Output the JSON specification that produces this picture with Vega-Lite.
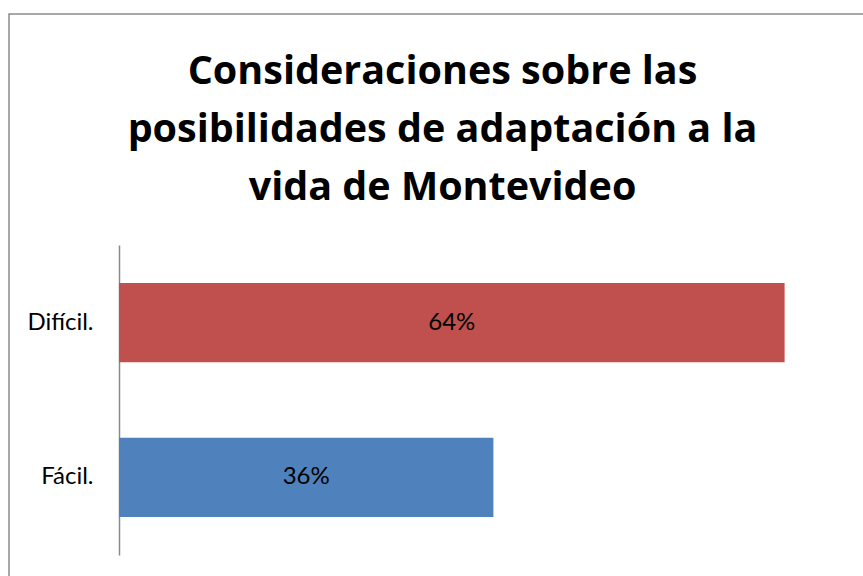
{
  "$schema": "https://vega.github.io/schema/vega-lite/v6.json",
  "autosize": {"type": "none"},
  "width": 855,
  "height": 563,
  "padding": {"left": 9, "top": 14, "right": 0, "bottom": 0},
  "background": "white",
  "config": {
    "view": {"stroke": "#8a8a8a", "strokeWidth": 1.5},
    "font": "Lato"
  },
  "title": {
    "text": ["Consideraciones sobre las", "posibilidades de adaptación a la", "vida de Montevideo"],
    "font": "Open Sans",
    "fontWeight": "bold",
    "fontSize": 39.5,
    "lineHeight": 58,
    "color": "black",
    "anchor": "middle",
    "frame": "group",
    "dx": 6,
    "dy": 198
  },
  "data": {
    "values": [
      {"categoria": "Difícil.", "valor": 0.64},
      {"categoria": "Fácil.", "valor": 0.36}
    ]
  },
  "encoding": {
    "y": {
      "field": "categoria",
      "type": "nominal",
      "sort": ["Difícil.", "Fácil."],
      "scale": {"range": [231, 541], "paddingInner": 0.487, "paddingOuter": 0.245},
      "axis": {
        "title": null,
        "offset": -110,
        "ticks": false,
        "domainColor": "#8a8a8a",
        "domainWidth": 1.5,
        "labelFont": "Lato",
        "labelFontSize": 24,
        "labelColor": "black",
        "labelPadding": 26
      }
    }
  },
  "layer": [
    {
      "mark": {"type": "bar"},
      "encoding": {
        "x": {
          "field": "valor",
          "type": "quantitative",
          "scale": {"domain": [-0.10577, 0.71635], "nice": false, "zero": false},
          "axis": null
        },
        "color": {
          "field": "categoria",
          "type": "nominal",
          "scale": {"domain": ["Difícil.", "Fácil."], "range": ["#C0504D", "#4F81BD"]},
          "legend": null
        }
      }
    },
    {
      "transform": [{"calculate": "datum.valor / 2", "as": "medio"}],
      "mark": {"type": "text", "font": "Lato", "fontSize": 24, "color": "black", "baseline": "middle", "align": "center"},
      "encoding": {
        "x": {"field": "medio", "type": "quantitative"},
        "text": {"field": "valor", "type": "quantitative", "format": ".0%"}
      }
    }
  ]
}
